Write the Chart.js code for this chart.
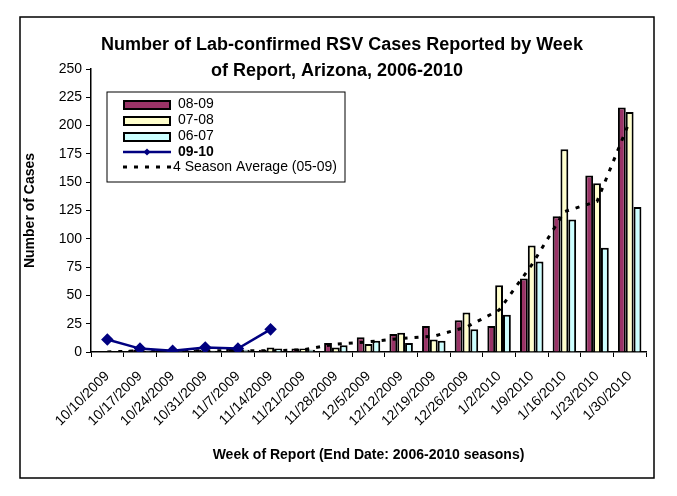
<!DOCTYPE html>
<html>
<head>
<meta charset="utf-8">
<script src="https://cdn.jsdelivr.net/npm/chart.js@4"></script>
<style>
  body { margin: 0; background: #fff; }
  #wrap { width: 677px; height: 496px; }
</style>
</head>
<body>
<div id="wrap"><canvas id="canvas"></canvas></div>
<script>
// weeks of report
const weeks = ['10/10/2009', '10/17/2009', '10/24/2009', '10/31/2009', '11/7/2009', '11/14/2009',
    '11/21/2009', '11/28/2009', '12/5/2009', '12/12/2009', '12/19/2009', '12/26/2009',
    '1/2/2010', '1/9/2010', '1/16/2010', '1/23/2010', '1/30/2010'];

// cases per season
const s0809 = [0, 2, 2, 2, 3, 2, 3, 8, 13, 16, 23, 28, 23, 65, 120, 156, 216];
const s0708 = [0, 2, 2, 2, 3, 4, 3, 4, 7, 17, 11, 35, 59, 94, 179, 149, 212];
const s0607 = [0, 1, 1, 1, 2, 3, 2, 6, 10, 8, 10, 20, 33, 80, 117, 92, 128];
const s0910 = [11, 3, 1, 4, 3, 20, null, null, null, null, null, null, null, null, null, null, null];
const avg4 = [0, 1, 1, 1, 1, 1, 2, 7, 9, 12, 14, 22, 37, 77, 124, 133, 204];

const yTicks = [0, 25, 50, 75, 100, 125, 150, 175, 200, 225, 250];

const font = 'Arial, "Liberation Sans", sans-serif';

// frame, title and legend box drawn on top of the chart
const extras = {
    id: 'extras',
    afterDraw(chart) {
        const ctx = chart.ctx;
        ctx.save();
        ctx.strokeStyle = '#000';
        ctx.lineWidth = 1.5;
        ctx.strokeRect(20, 17, 634, 461);

        ctx.fillStyle = '#000';
        ctx.textAlign = 'center';
        ctx.textBaseline = 'middle';
        ctx.font = 'bold 18px ' + font;
        ctx.fillText('Number of Lab-confirmed RSV Cases Reported by Week', 342, 45);
        ctx.fillText('of Report, Arizona, 2006-2010', 337, 71);

        // legend
        ctx.fillStyle = '#fff';
        ctx.fillRect(107, 92, 238, 90);
        ctx.lineWidth = 1;
        ctx.strokeRect(107, 92, 238, 90);
        const ds = chart.data.datasets;
        const rows = [104, 120, 136, 152, 167];
        ctx.textAlign = 'left';
        ds.forEach((d, i) => {
            const y = rows[i];
            if (d.type === 'line') {
                ctx.strokeStyle = d.borderColor;
                ctx.lineWidth = d.borderWidth;
                ctx.setLineDash(d.borderDash || []);
                ctx.beginPath();
                ctx.moveTo(123, y);
                ctx.lineTo(171, y);
                ctx.stroke();
                ctx.setLineDash([]);
                if (d.pointRadius) {
                    ctx.fillStyle = d.borderColor;
                    ctx.beginPath();
                    ctx.moveTo(147, y - 3.5);
                    ctx.lineTo(150.5, y);
                    ctx.lineTo(147, y + 3.5);
                    ctx.lineTo(143.5, y);
                    ctx.closePath();
                    ctx.fill();
                }
            } else {
                ctx.fillStyle = d.backgroundColor;
                ctx.fillRect(124, y - 3, 46, 8);
                ctx.strokeStyle = '#000';
                ctx.lineWidth = 2;
                ctx.strokeRect(124, y - 3, 46, 8);
            }
            ctx.fillStyle = '#000';
            ctx.font = (d.label === '09-10' ? 'bold ' : '') + '14px ' + font;
            ctx.fillText(d.label, d.borderDash ? 173 : 178, y);
        });
        ctx.restore();
    }
};

const ctx = document.getElementById('canvas').getContext('2d');
new Chart(ctx, {
    type: 'bar',
    data: {
        labels: weeks,
        datasets: [
            { label: '08-09', data: s0809, backgroundColor: '#993366', borderColor: '#000', borderWidth: 2, order: 2 },
            { label: '07-08', data: s0708, backgroundColor: '#FFFFCC', borderColor: '#000', borderWidth: 2, order: 2 },
            { label: '06-07', data: s0607, backgroundColor: '#CCFFFF', borderColor: '#000', borderWidth: 2, order: 2 },
            {
                type: 'line', label: '09-10', data: s0910,
                borderColor: '#000080', backgroundColor: '#000080', borderWidth: 2.5,
                pointStyle: 'rectRot', pointRadius: 4.5, pointBackgroundColor: '#000080',
                tension: 0, spanGaps: false, order: 0
            },
            {
                type: 'line', label: '4 Season Average (05-09)', data: avg4,
                borderColor: '#000', borderWidth: 3, borderDash: [4, 7],
                pointRadius: 0, tension: 0, fill: false, order: 1
            }
        ]
    },
    options: {
        responsive: true,
        maintainAspectRatio: false,
        animation: false,
        layout: { padding: { left: 20, right: 31, top: 69, bottom: 21 } },
        datasets: {
            bar: { categoryPercentage: 0.72, barPercentage: 1.0, borderSkipped: 'start' }
        },
        plugins: {
            legend: { display: false },
            tooltip: { enabled: false }
        },
        scales: {
            x: {
                grid: { display: true, drawOnChartArea: false, tickLength: 5, color: '#000', offset: true },
                border: { color: '#000', width: 1.5 },
                ticks: {
                    autoSkip: false, maxRotation: 45, minRotation: 45, padding: 11,
                    color: '#000', font: { family: font, size: 14 }
                },
                title: {
                    display: true,
                    text: 'Week of Report (End Date: 2006-2010 seasons)',
                    color: '#000',
                    font: { family: font, size: 14, weight: 'bold' },
                    padding: { top: 4, bottom: 11 }
                },
                afterFit: s => { s.height = 123; }
            },
            y: {
                min: 0,
                max: 250,
                afterBuildTicks: s => { s.ticks = yTicks.map(v => ({ value: v })); },
                grid: { display: true, drawOnChartArea: false, tickLength: 5, color: '#000' },
                border: { color: '#000', width: 1.5 },
                ticks: { color: '#000', padding: 4, font: { family: font, size: 14 } },
                title: {
                    display: true,
                    text: 'Number of Cases',
                    color: '#000',
                    font: { family: font, size: 14, weight: 'bold' },
                    padding: { top: 2, bottom: 0 }
                },
                afterFit: s => { s.width = 71; }
            }
        }
    },
    plugins: [extras]
});
</script>
</body>
</html>
